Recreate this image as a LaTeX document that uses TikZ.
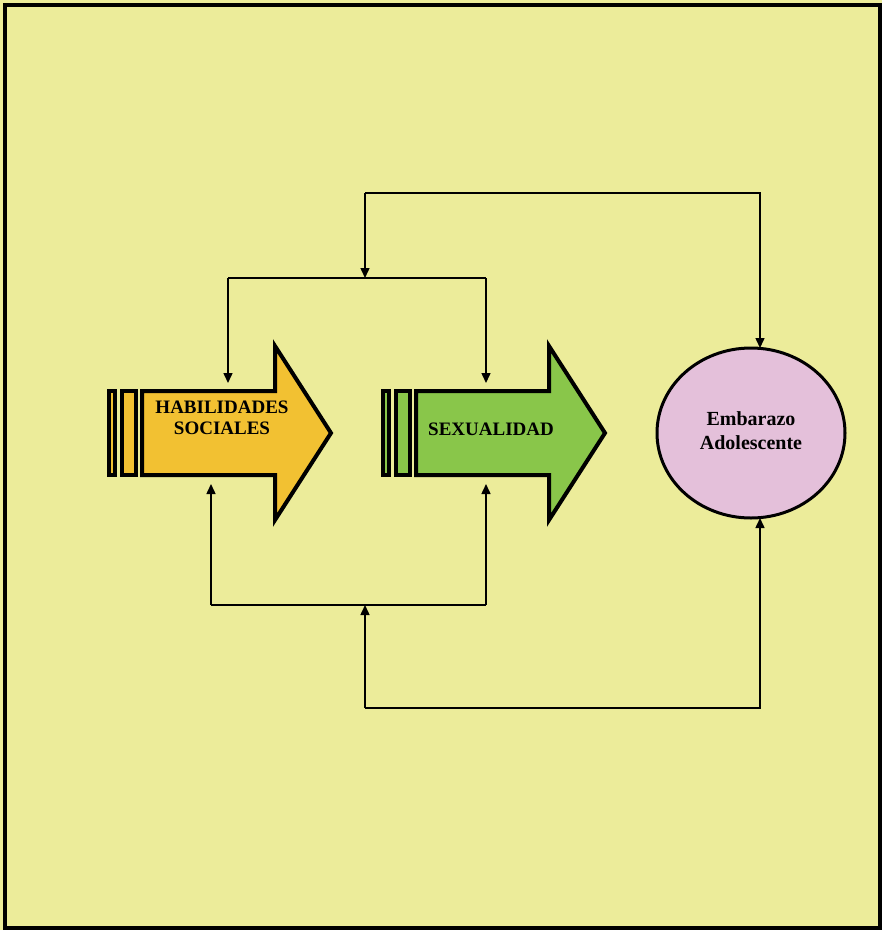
\documentclass[tikz,border=0pt]{standalone}
\usepackage{fontspec}
\setmainfont{Liberation Serif}
\usetikzlibrary{arrows.meta}
\definecolor{bgyellow}{RGB}{236,236,154}
\definecolor{orangefill}{RGB}{242,193,50}
\definecolor{greenfill}{RGB}{137,198,74}
\definecolor{pinkfill}{RGB}{228,192,218}
\tikzset{
  bigarrow/.style={draw=black, line width=4pt, line join=miter},
  conn/.style={draw=black, line width=1.5pt},
  tip/.style={-{Triangle[length=10pt,width=9pt]}},
  lbl/.style={font=\fontsize{19}{22}\selectfont\bfseries, anchor=base, inner sep=0pt},
  lblbig/.style={lbl, font=\fontsize{20}{24}\selectfont\bfseries}
}
\begin{document}
\begin{tikzpicture}[x=1pt,y=-1pt]
\useasboundingbox (0,0) rectangle (882,930);
\fill[bgyellow] (0,0) rectangle (882,930);
\draw[line width=4pt] (5,5) rectangle (880,928);

% HABILIDADES SOCIALES arrow
\draw[bigarrow, fill=orangefill] (109,391) rectangle (115,475);
\draw[bigarrow, fill=orangefill] (122,391) rectangle (136,475);
\draw[bigarrow, fill=orangefill] (142,391) -- (275,391) -- (275,346) -- (331,433) -- (275,520) -- (275,475) -- (142,475) -- cycle;
\node[lbl] (hab1) at (222,413) {HABILIDADES};
\node[lbl] (hab2) at (222,434.5) {SOCIALES};

% SEXUALIDAD arrow
\draw[bigarrow, fill=greenfill] (383,391) rectangle (389,475);
\draw[bigarrow, fill=greenfill] (396,391) rectangle (410,475);
\draw[bigarrow, fill=greenfill] (416,391) -- (549,391) -- (549,346) -- (605,433) -- (549,520) -- (549,475) -- (416,475) -- cycle;
\node[lbl] (sex) at (491,435) {SEXUALIDAD};

% Ellipse
\draw[line width=3pt, fill=pinkfill] (751,433) ellipse [x radius=94, y radius=85];
\node[lblbig] (emb1) at (751,425) {Embarazo};
\node[lblbig] (emb2) at (751,449) {Adolescente};

% connector end points
\coordinate (hTop) at (228,383);
\coordinate (sTop) at (486,383);
\coordinate (hBot) at (211,484);
\coordinate (sBot) at (486,484);
\coordinate (eTop) at (760,348);
\coordinate (eBot) at (760,518);
\coordinate (topBar) at (365,278);
\coordinate (botBar) at (365,605);
\coordinate (topOut) at (365,193);
\coordinate (botOut) at (365,708);

% top connectors
\draw[conn] (hTop |- topBar) -- (sTop |- topBar);
\draw[conn, tip] (hTop |- topBar) -- (hTop);
\draw[conn, tip] (sTop |- topBar) -- (sTop);
\draw[conn, tip] (topOut) -- (topBar);
\draw[conn, tip] (topOut) -- (eTop |- topOut) -- (eTop);

% bottom connectors
\draw[conn] (hBot |- botBar) -- (sBot |- botBar);
\draw[conn, tip] (hBot |- botBar) -- (hBot);
\draw[conn, tip] (sBot |- botBar) -- (sBot);
\draw[conn, tip] (botOut) -- (botBar);
\draw[conn, tip] (botOut) -- (eBot |- botOut) -- (eBot);
\end{tikzpicture}
\end{document}
